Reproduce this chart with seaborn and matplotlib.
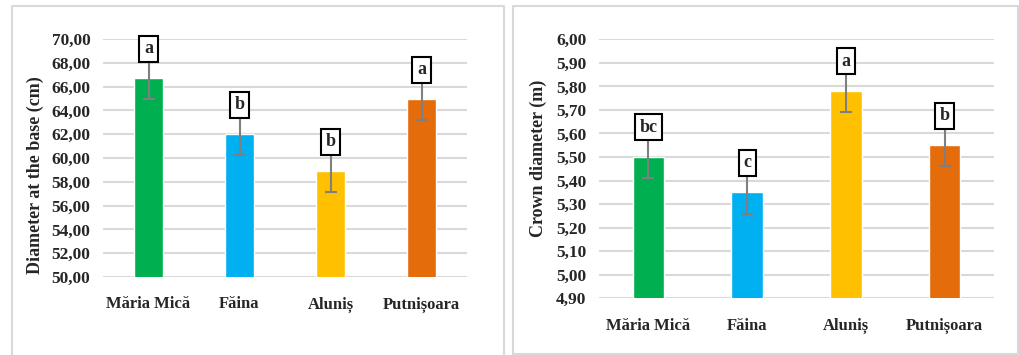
import numpy as np
import pandas as pd
import matplotlib
matplotlib.use('Agg')
import matplotlib.pyplot as plt
from matplotlib.lines import Line2D
from matplotlib.ticker import FuncFormatter
import seaborn as sns

sites = ['Măria Mică', 'Făina', 'Aluniș', 'Putnișoara']
colors = ['#00B050', '#00B0F0', '#FFC000', '#E46C0A']

# diameter at the base (cm)
base_mean = [66.7, 62.0, 58.9, 64.95]
base_err = [1.76, 1.75, 1.75, 1.76]
base_letters = ['a', 'b', 'b', 'a']

# crown diameter (m)
crown_mean = [5.50, 5.35, 5.78, 5.55]
crown_err = [0.09, 0.09, 0.09, 0.09]
crown_letters = ['bc', 'c', 'a', 'b']

sns.set_style('white')
plt.rcParams['font.family'] = ['Liberation Serif', 'DejaVu Serif']
plt.rcParams['font.weight'] = 'bold'

fig = plt.figure(figsize=(10.2, 3.55), dpi=100)

# panel frames
def frame(x0, x1, y0, y1, bottom=True):
    W, H = 1020, 355
    pts = [(x0, y1), (x0, y0), (x1, y0), (x1, y1)]
    if bottom:
        pts.append((x0, y1))
    xs = [p[0] / W for p in pts]
    ys = [1 - p[1] / H for p in pts]
    fig.add_artist(Line2D(xs, ys, color='#D9D9D9', lw=1.5, transform=fig.transFigure))

frame(12, 504, 6, 356, bottom=False)
frame(513, 1018, 6, 354)


def panel(rect, means, errs, letters, ylim, step, ylabel, lab_xy):
    ax = fig.add_axes(rect)
    df = pd.DataFrame({'site': sites, 'value': means})
    sns.barplot(data=df, x='site', y='value', hue='site', palette=colors,
                width=0.32, legend=False, ax=ax, saturation=1, zorder=2)
    x = np.arange(len(sites))
    ax.errorbar(x, means, yerr=errs, fmt='none', ecolor='#7F7F7F',
                elinewidth=1.5, capsize=4, capthick=1.5, zorder=3)
    for xi, m, e, lt in zip(x, means, errs, letters):
        ax.text(xi, m + e, lt, ha='center', va='bottom',
                fontsize=13, fontweight='bold', zorder=4,
                bbox=dict(boxstyle='square,pad=0.25', fc='white', ec='black', lw=1.5))
    ax.set_xlim(-0.5, len(sites) - 0.5)
    ax.set_ylim(*ylim)
    ax.set_yticks(np.arange(ylim[0], ylim[1] + step / 2, step))
    ax.yaxis.set_major_formatter(FuncFormatter(lambda v, p: f'{v:.2f}'.replace('.', ',')))
    ax.grid(axis='y', color='#D9D9D9', lw=1.5, zorder=0)
    ax.set_axisbelow(True)
    for s in ax.spines.values():
        s.set_visible(False)
    ax.tick_params(axis='y', length=0, labelsize=12.5, pad=9)
    ax.tick_params(axis='x', length=0, labelsize=12, pad=14)
    for t in ax.get_xticklabels() + ax.get_yticklabels():
        t.set_fontweight('bold')
    ax.set_xlabel('')
    ax.set_ylabel(ylabel, fontsize=13, fontweight='bold')
    ax.yaxis.set_label_coords(*lab_xy)
    return ax


panel([103 / 1020, 1 - 277 / 355, 364 / 1020, 238 / 355],
      base_mean, base_err, base_letters, (50, 70), 2,
      'Diameter at the base (cm)', (-0.163, 0.43))
panel([599 / 1020, 1 - 298.3 / 355, 395 / 1020, 259 / 355],
      crown_mean, crown_err, crown_letters, (4.9, 6.0), 0.1,
      'Crown diameter (m)', (-0.132, 0.54))

fig.savefig('out.png', dpi=100)
